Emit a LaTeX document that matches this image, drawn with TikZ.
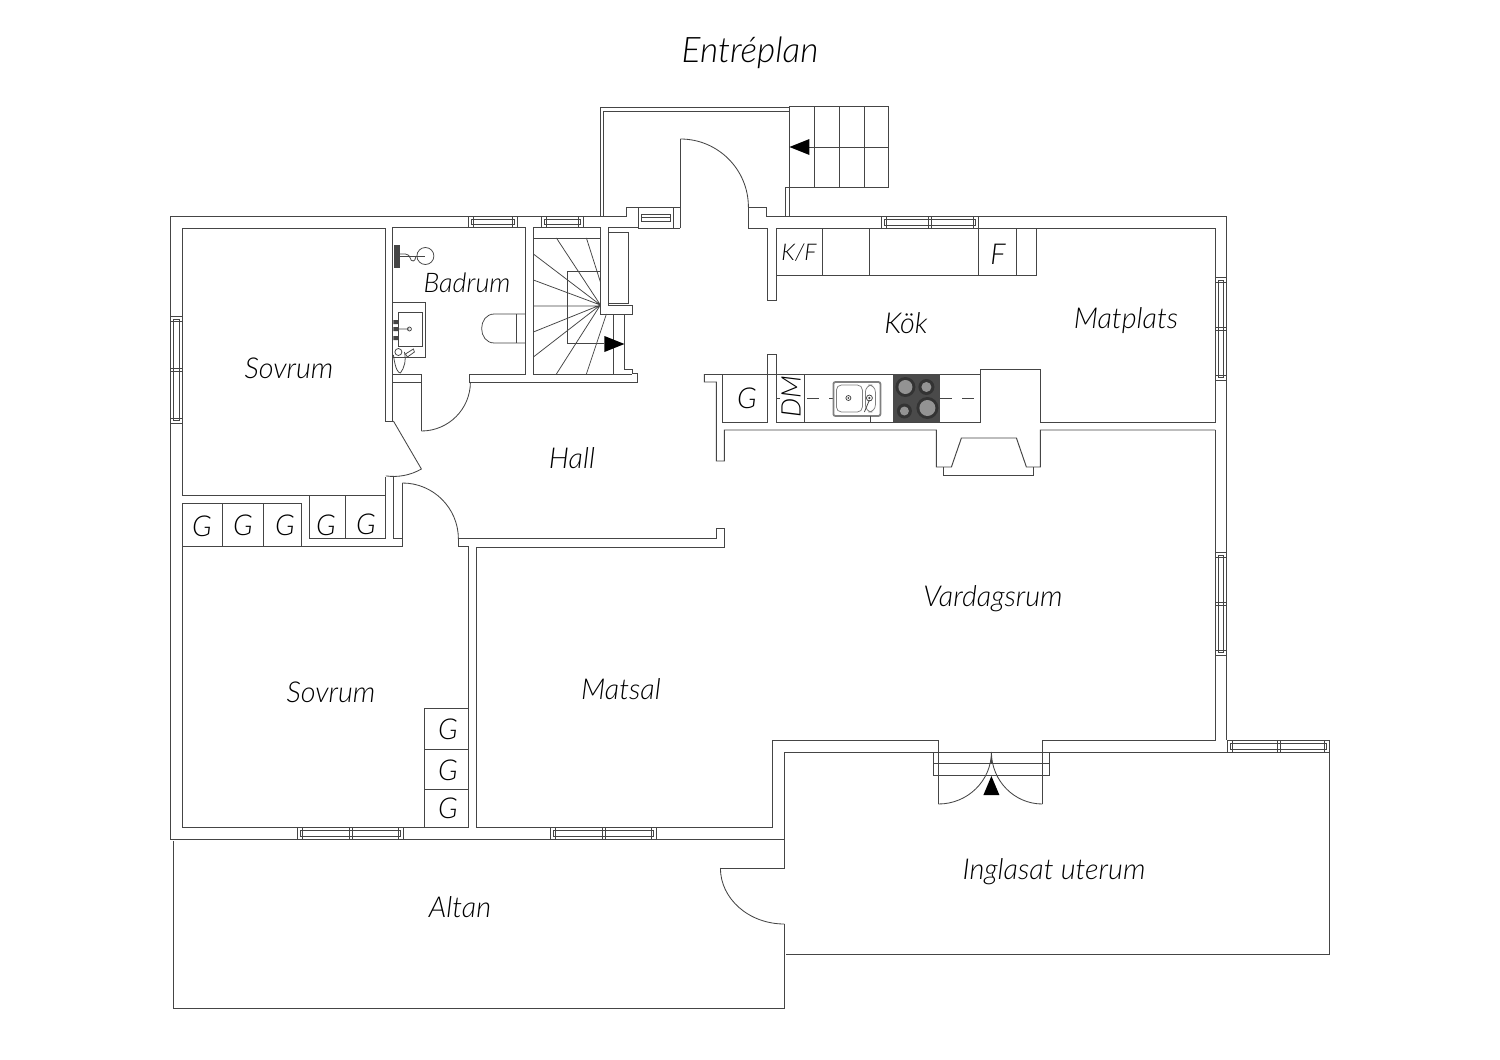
\documentclass[tikz,border=0pt]{standalone}
\usepackage{fontspec}
\setmainfont{Lato}[ItalicFont={Lato Light Italic}]
\definecolor{ln}{HTML}{454545}
\definecolor{hobc}{HTML}{4A4A4A}
\tikzset{
  wall/.style={draw=ln,line width=0.48pt,line join=miter},
  thin line/.style={draw=ln,line width=0.38pt},
  swing/.style={draw=ln,line width=0.42pt},
  lbl/.style={font=\fontsize{14.4}{16}\selectfont\itshape,text=black,inner sep=0pt},
  smalllbl/.style={font=\fontsize{13.5}{16}\selectfont\itshape,text=black,inner sep=0pt},
  mini/.style={font=\fontsize{11.5}{13}\selectfont\itshape,text=black,inner sep=0pt},
  ttl/.style={font=\fontsize{17.6}{20}\selectfont\itshape,text=black,inner sep=0pt},
  tip/.style={fill=black,draw=none},
}
% horizontal window: x1 x2 y1 y2
\newcommand{\hwin}[4]{%
  \path[wall,fill=white] (#1,#3) rectangle (#2,#4);
  \draw[thin line] ({#1+3},{#3+3}) rectangle ({#2-3},{#4-3});
  \draw[thin line] ({#1+5},{#3}) -- ({#1+5},{#4}) ({#2-5},{#3}) -- ({#2-5},{#4});
}
\newcommand{\hmul}[4]{%
  \draw[thin line] ({(#1+#2)/2-1.5},{#3}) -- ({(#1+#2)/2-1.5},{#4}) ({(#1+#2)/2+1.5},{#3}) -- ({(#1+#2)/2+1.5},{#4});
}
\newcommand{\vwin}[4]{%
  \path[wall,fill=white] (#1,#3) rectangle (#2,#4);
  \draw[thin line] ({#1+3},{#3+3}) rectangle ({#2-3},{#4-3});
  \draw[thin line] ({#1},{#3+5}) -- ({#2},{#3+5}) ({#1},{#4-5}) -- ({#2},{#4-5});
  \draw[thin line] ({#1},{(#3+#4)/2-1.5}) -- ({#2},{(#3+#4)/2-1.5}) ({#1},{(#3+#4)/2+1.5}) -- ({#2},{(#3+#4)/2+1.5});
}
\begin{document}
\begin{tikzpicture}[x=0.5pt,y=-0.5pt]
\useasboundingbox[fill=white] (0,0) rectangle (1500,1060);
\begin{scope}[xshift=-0.3pt]
% outer walls
\draw[wall] (171,839) -- (171,216) -- (627,216) -- (627,207) -- (681,207);
\draw[wall] (749,207) -- (767,207) -- (767,216) -- (1227,216) -- (1227,740);
\draw[wall] (171,839) -- (785,839);

% porch and back steps
\draw[wall] (601,216) -- (601,107) -- (790,107);
\draw[wall] (604,216) -- (604,111) -- (790,111);
\draw[wall] (681,228) -- (681,139);
\draw[swing] (681,139) arc[start angle=-90,end angle=0,radius=68];
\draw[wall] (749,207) -- (749,228) -- (768,228) -- (768,300) -- (777,300) -- (777,228) -- (1216,228) -- (1216,422) -- (1041,422) -- (1041,369) -- (981,369) -- (981,422) -- (777,422) -- (777,354) -- (768,354) -- (768,422) -- (723,422) -- (723,374);
\draw[wall] (639,228) -- (681,228);
\draw[wall] (790,106) rectangle (889,187);
\draw[thin line] (815,106) -- (815,187) (840,106) -- (840,187) (865,106) -- (865,187);
\draw[thin line] (810,147) -- (889,147);
\draw[wall] (790,187) -- (786,187) -- (786,216) (790,187) -- (790,216);
\path[tip] (790,147) -- (810,139) -- (810,155) -- cycle;

% kitchen upper cabinets
\draw[thin line] (777,275) -- (1037,275) -- (1037,228);
\draw[thin line] (823,228) -- (823,275) (870,228) -- (870,275) (979,228) -- (979,275) (1017,228) -- (1017,275);

% kitchen lower counter
\draw[wall] (705,374) -- (981,374);
\draw[wall] (705,374) -- (705,382) -- (717,382) -- (717,461) -- (725,461) -- (725,430) -- (937,430) -- (937,467) -- (952,467) -- (962,438) -- (1017,438) -- (1027,467) -- (1041,467) -- (1041,430) -- (1216,430);
\draw[wall] (944,467) -- (944,475) -- (1034,475) -- (1034,467);
\draw[thin line] (805,374) -- (805,422);
\draw[thin line,dash pattern=on 6pt off 5pt] (808,398) -- (834,398) (941,398) -- (981,398);
\draw[thin line] (777,398) -- (781,398);
% sink
\draw[draw=gray,line width=0.9pt,rounded corners=1pt,fill=white] (834,382) rectangle (881,416);
\draw[thin line,draw=gray,rounded corners=2.5pt] (837,385) rectangle (863,412);
\draw[thin line,draw=gray,rounded corners=3.5pt] (866,385) rectangle (876,412);
\draw[thin line] (849,398) circle[radius=2.5] (870,398) circle[radius=3];
\fill[ln] (849,398) circle[radius=1] (870,398) circle[radius=1.2];
\draw[thin line] (870,400) -- (865,412) (871,416) -- (871,422);
% hob
\fill[hobc] (894,374) rectangle (941,422);
\foreach \cx/\cy/\rr in {906/387/10,927/387/8,905/411/7.5,928/408/11}{
  \fill[black!80] (\cx,\cy) circle[radius=\rr];
  \fill[gray!85] (\cx,\cy) circle[radius=\rr-3];
}

% main room right side
\draw[wall] (1216,430) -- (1216,740) -- (1043,740) -- (1043,804);
\draw[wall] (939,804) -- (939,740) -- (773,740) -- (773,827) -- (477,827) -- (477,547) -- (725,547) -- (725,528) -- (717,528) -- (717,538) -- (459,538) -- (459,546) -- (469,546) -- (469,827) -- (183,827) -- (183,503) -- (302,503) -- (302,546);
\draw[swing] (939,804) arc[start angle=90,end angle=0,x radius=53,y radius=52];
\draw[swing] (1043,804) arc[start angle=90,end angle=180,x radius=51,y radius=52];
\draw[thin line] (934,752) rectangle (1050,775);
\draw[thin line] (934,763) -- (1050,763) (992,752) -- (992,764);
\path[tip] (992,776) -- (984,795) -- (1000,795) -- cycle;

% terraces
\draw[wall] (785,752) -- (785,868) -- (721,868);
\draw[swing] (721,868) arc[start angle=180,end angle=90,x radius=64,y radius=56];
\draw[wall] (785,924) -- (785,1008) -- (174,1008) -- (174,841);
\draw[wall] (785,752) -- (1330,752);
\draw[thin line] (1330,740) -- (1330,954) -- (787,954);

% bedroom 1
\draw[wall] (183,495) -- (183,228) -- (386,228) -- (386,421) -- (393,421) -- (393,382) -- (422,382) -- (422,431);
\draw[wall] (183,495) -- (386,495) (386,477) -- (386,538) -- (310,538) -- (310,495);
\draw[thin line] (346,495) -- (346,538);
\draw[wall] (394,477) -- (394,538) -- (403,538) (403,483) -- (403,546) -- (183,546);
\draw[thin line] (223,503) -- (223,546) (264,503) -- (264,546);
\draw[swing] (403,483) arc[start angle=-90,end angle=0,radius=56];
\draw[swing] (394,421) -- (422,469) arc[start angle=60,end angle=98,radius=55.6];

% bathroom
\draw[wall] (393,421) -- (393,227) -- (526,227) -- (526,374) -- (470,374) -- (470,382) -- (638,382) -- (638,373) -- (633,373) -- (633,369) -- (625,369) -- (625,314);
\draw[wall] (393,374) -- (422,374) -- (422,382);
\draw[swing] (422,431) arc[start angle=90,end angle=0,radius=49];
\draw[thin line] (426,256) circle[radius=8.5];
\draw[thin line] (397,256) -- (426,256);
\draw[thin line,fill=ln] (395,245) rectangle (400,267);
\draw[thin line] (400,254) -- (406,254) .. controls (412,254) and (410,262) .. (414,261) .. controls (417,260) and (415,256) .. (418,256);
\draw[thin line] (393,302) -- (426,302) -- (426,357) -- (393,357);
\draw[thin line] (399,312) rectangle (423,346);
\fill[ln] (394,320) rectangle (399,324) (394,327) rectangle (399,331) (394,336) rectangle (399,340);
\draw[thin line] (397,329) -- (410,329) (410,329) circle[radius=2];
\draw[thin line] (394,355) .. controls (396,370) and (399,373) .. (401,373) .. controls (405,368) and (407,360) .. (405,352);
\draw[thin line] (399,352) circle[radius=3.5];
\draw[thin line,fill=white] (406,354) -- (414,349) -- (415,352) -- (408,357) -- cycle;
\draw[thin line] (517,314) -- (517,343);
\draw[thin line] (526,314) -- (495,314) .. controls (478,314) and (478,343) .. (495,343) -- (526,343);

% stairs
\draw[wall] (534,374) -- (534,227) -- (601,227) -- (601,314) -- (633,314) -- (633,305) -- (609,305) -- (609,227) -- (639,227);
\draw[wall] (534,374) -- (633,374);
\draw[thin line] (534,238) -- (601,238);
\draw[thin line] (601,271) -- (568,271) -- (568,343) -- (605,343);
\draw[thin line] (614,314) -- (614,374);
\draw[thin line] (534,254) -- (601,305) (534,280) -- (601,305) (534,306) -- (601,306) (534,332) -- (601,305) (534,357) -- (601,305) (557,238) -- (601,305) (587,238) -- (601,282) (557,374) -- (601,305) (587,374) -- (607,314);
\draw[wall] (609,232) -- (629,232) -- (629,303) -- (609,303);
\path[tip] (625,344) -- (605,336) -- (605,352) -- cycle;

% bedroom 2 wardrobes
\draw[thin line] (425,827) -- (425,708) -- (469,708) (425,749) -- (469,749) (425,789) -- (469,789);

% windows
\hwin{469}{518}{216}{227}
\hwin{542}{584}{216}{227}
\path[wall,fill=white] (639,207) rectangle (674,228);
\draw[thin line] (642,214) rectangle (671,221);
\draw[thin line] (642,217.5) -- (671,217.5);
\hwin{882}{979}{216}{228}\hmul{882}{979}{216}{228}
\hwin{298}{404}{827}{839}\hmul{298}{404}{827}{839}
\hwin{551}{657}{827}{839}\hmul{551}{657}{827}{839}
\hwin{1228}{1330}{740}{752}\hmul{1228}{1330}{740}{752}
\vwin{171}{183}{316}{423}
\vwin{1216}{1227}{277}{380}
\vwin{1216}{1227}{552}{655}
\end{scope}

% labels
\node[ttl] (title) at (750,53) {Entréplan};
\node[lbl] (bed1) at (289,368) {Sovrum};
\node[smalllbl] (bath) at (467,283) {Badrum};
\node[lbl] (kok) at (906,323) {Kök};
\node[lbl] (matpl) at (1126,321) {Matplats};
\node[lbl] (hall) at (572,458) {Hall};
\node[lbl] (vard) at (993,599) {Vardagsrum};
\node[lbl] (mats) at (621,689) {Matsal};
\node[lbl] (bed2) at (331,692) {Sovrum};
\node[lbl] (altan) at (460,907) {Altan};
\node[lbl] (ute) at (1054,872) {Inglasat uterum};
\node[mini] (kf) at (799,253) {K/F};
\node[lbl] (fr) at (998,254) {F};
\node[smalllbl,rotate=90] (dm) at (791,397) {DM};
\node[lbl] (g1) at (747,398) {G};
\node[lbl] (g2) at (202,526) {G};
\node[lbl] (g3) at (243,525) {G};
\node[lbl] (g4) at (285,525) {G};
\node[lbl] (g5) at (326,525) {G};
\node[lbl] (g6) at (366,524) {G};
\node[lbl] (g7) at (448,729) {G};
\node[lbl] (g8) at (448,770) {G};
\node[lbl] (g9) at (448,808) {G};
\end{tikzpicture}
\end{document}
